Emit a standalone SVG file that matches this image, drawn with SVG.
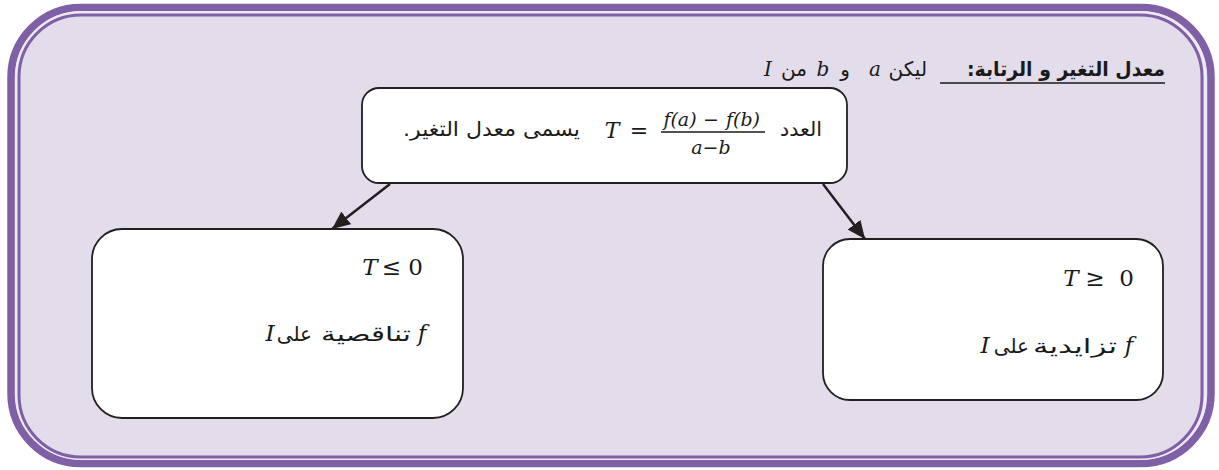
<svg xmlns="http://www.w3.org/2000/svg" width="1219" height="470" viewBox="0 0 1219 470">
<style>
.ar{font-family:"DejaVu Sans","Noto Sans",sans-serif;font-size:20px;fill:#1a1a1a}
.arb{font-family:"DejaVu Sans","Noto Sans",sans-serif;font-size:20px;font-weight:bold;fill:#1a1a1a}
.mi{font-family:"DejaVu Serif","Liberation Serif",serif;font-style:italic;fill:#1a1a1a}
.mr{font-family:"DejaVu Serif","Liberation Serif",serif;fill:#1a1a1a}
.box{fill:#ffffff;stroke:#231f20;stroke-width:1.8}
.conn{stroke:#231f20;stroke-width:2.5;fill:none}
</style>
<defs>
<marker id="ah" markerUnits="userSpaceOnUse" markerWidth="20" markerHeight="16" refX="18" refY="8" orient="auto">
<path d="M0,0 L18,8 L0,16 Z" fill="#231f20"/>
</marker>
</defs>
<g id="frame">
<rect x="11" y="7.5" width="1200" height="456" rx="70" fill="#e3dcea" stroke="#7f5fa5" stroke-width="7.5"/>
<rect x="16.5" y="12.5" width="1189" height="446" rx="65" fill="none" stroke="#eeeaf3" stroke-width="3"/>
<rect x="19" y="15" width="1183" height="442" rx="62" fill="none" stroke="#7f5fa5" stroke-width="3"/>
</g>
<g id="title">
<text class="arb" x="1165" y="76" text-anchor="end" textLength="198" lengthAdjust="spacingAndGlyphs">معدل التغير و الرتابة:&#x200F;</text>
<line x1="940" y1="83" x2="1165" y2="83" stroke="#1a1a1a" stroke-width="1.6"/>
<text class="ar" x="927" y="76" text-anchor="end">ليكن</text>
<text class="mi" x="875" y="76" font-size="20" text-anchor="middle">a</text>
<text class="ar" x="845" y="76" text-anchor="middle">و</text>
<text class="mi" x="823" y="76" font-size="20" text-anchor="middle">b</text>
<text class="ar" x="807" y="76" text-anchor="end">من</text>
<text class="mi" x="768" y="76" font-size="20" text-anchor="middle">I</text>
</g>
<g id="connectors">
<line class="conn" x1="390" y1="184" x2="332" y2="229" marker-end="url(#ah)"/>
<line class="conn" x1="823" y1="184" x2="865" y2="239" marker-end="url(#ah)"/>
</g>
<g id="node-top">
<rect class="box" x="362" y="88" width="485" height="95" rx="17"/>
<text class="ar" x="822" y="136" text-anchor="end" font-size="21" textLength="42" lengthAdjust="spacingAndGlyphs">العدد</text>
<text class="mi" x="612" y="138" font-size="22" text-anchor="middle">T</text>
<text class="mr" x="639" y="138" font-size="22" text-anchor="middle">=</text>
<text class="mi" x="680" y="126" font-size="19" text-anchor="middle">f(a)</text>
<text class="mr" x="711" y="126" font-size="19" text-anchor="middle">−</text>
<text class="mi" x="743" y="126" font-size="19" text-anchor="middle">f(b)</text>
<line x1="661" y1="132" x2="765" y2="132" stroke="#1a1a1a" stroke-width="1.3"/>
<text class="mi" x="711" y="154" font-size="19" text-anchor="middle">a−b</text>
<text class="ar" x="580" y="136" text-anchor="end" font-size="21" textLength="177" lengthAdjust="spacingAndGlyphs">يسمى معدل التغير.&#x200F;</text>
</g>
<g id="node-left">
<rect class="box" x="92" y="229" width="371" height="189" rx="30"/>
<text class="mi" x="370" y="275" font-size="23" text-anchor="middle">T</text>
<text class="mr" x="391.5" y="275" font-size="23" text-anchor="middle">≤</text>
<text class="mr" x="415.5" y="275" font-size="23" text-anchor="middle">0</text>
<text class="mi" x="422" y="341" font-size="23" text-anchor="middle">f</text>
<text class="ar" x="411" y="341" text-anchor="end" font-size="25" textLength="90" lengthAdjust="spacingAndGlyphs">تناقصية</text>
<text class="ar" x="312" y="341" text-anchor="end" font-size="22">على</text>
<text class="mi" x="270" y="341" font-size="23" text-anchor="middle">I</text>
</g>
<g id="node-right">
<rect class="box" x="823" y="239" width="340" height="161" rx="27"/>
<text class="mi" x="1071" y="286" font-size="23" text-anchor="middle">T</text>
<text class="mr" x="1095" y="286" font-size="23" text-anchor="middle">≥</text>
<text class="mr" x="1126.5" y="286" font-size="23" text-anchor="middle">0</text>
<text class="mi" x="1129" y="353" font-size="23" text-anchor="middle">f</text>
<text class="ar" x="1117" y="353" text-anchor="end" font-size="25" textLength="84" lengthAdjust="spacingAndGlyphs">تزايدية</text>
<text class="ar" x="1029" y="353" text-anchor="end" font-size="22">على</text>
<text class="mi" x="985" y="353" font-size="23" text-anchor="middle">I</text>
</g>
</svg>
